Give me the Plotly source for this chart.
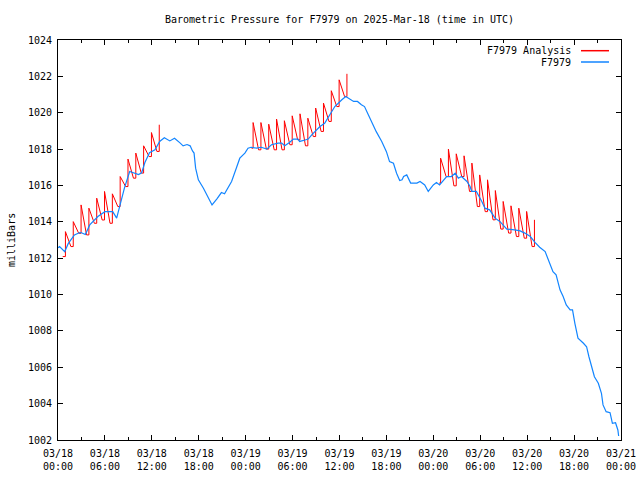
import pandas as pd
import plotly.graph_objects as go

# ---------------- data ----------------
BASE = "2025-03-18 00:00"

blue_hours = [0.0, 0.2, 0.86, 1.3, 2.1, 2.8, 3.0, 3.5, 4.06, 4.7, 5.1, 6.0, 7.0, 7.5, 7.9,
              8.5, 9.17, 9.8, 10.3, 10.7, 11.1, 11.7, 12.4, 13.0, 13.6, 14.3, 14.9, 15.6,
              16.0, 16.5, 16.9, 17.2, 17.4, 17.6, 17.95, 18.6, 19.2, 19.7, 20.3, 20.9, 21.3,
              22.2, 22.8, 23.25, 23.9, 24.3, 24.7, 25.4, 26.0, 26.7, 27.3, 28.15, 28.6, 29.0,
              29.6, 30.1, 30.7, 30.9, 31.6, 32.0, 32.45, 33.5, 34.1, 34.8, 35.4, 36.3, 36.8,
              37.8, 38.3, 38.8, 39.2, 39.7, 40.3, 40.7, 41.4, 42.0, 42.4, 42.9, 43.3, 43.7,
              44.0, 44.2, 44.6, 45.1, 45.9, 46.3, 46.9, 47.35, 48.0, 48.4, 48.8, 49.3, 49.7,
              50.3, 50.8, 51.2, 51.6, 52.3, 52.7, 52.9, 53.5, 54.2, 54.6, 55.2, 55.9, 56.5,
              57.4, 58.4, 59.1, 59.7, 60.4, 61.0, 61.6, 62.3, 62.9, 63.3, 63.7, 64.2, 64.6,
              65.0, 65.5, 65.8, 66.1, 66.5, 67.2, 67.6, 67.9, 68.2, 68.6, 69.1, 69.5, 69.7,
              70.1, 70.6, 70.9, 71.3, 71.6, 71.7]
blue_mb = [1012.57, 1012.64, 1012.36, 1012.8, 1013.28, 1013.41, 1013.4, 1013.3, 1013.83, 1014.1,
           1014.29, 1014.56, 1014.56, 1014.2, 1014.84, 1015.87, 1016.77, 1016.68, 1016.6, 1016.7,
           1017.25, 1017.8, 1017.96, 1018.42, 1018.62, 1018.45, 1018.6, 1018.34, 1018.18, 1018.25,
           1018.18, 1017.9, 1017.78, 1016.95, 1016.31, 1015.85, 1015.3, 1014.93, 1015.25, 1015.61,
           1015.54, 1016.22, 1016.95, 1017.5, 1017.78, 1018.05, 1018.1, 1018.05, 1018.1, 1018.0,
           1018.24, 1018.33, 1018.33, 1018.18, 1018.36, 1018.55, 1018.55, 1018.42, 1018.5, 1018.55,
           1018.78, 1019.24, 1019.42, 1019.88, 1020.34, 1020.71, 1020.89, 1020.62, 1020.62, 1020.44,
           1020.34, 1019.88, 1019.33, 1018.96, 1018.42, 1017.86, 1017.31, 1017.22, 1016.67, 1016.27,
           1016.31, 1016.49, 1016.58, 1016.13, 1016.13, 1016.22, 1016.03, 1015.67, 1016.03, 1016.16,
           1016.03, 1016.31, 1016.49, 1016.49, 1016.67, 1016.4, 1016.49, 1016.22, 1015.94, 1015.67,
           1015.67, 1015.12, 1014.75, 1014.66, 1014.2, 1014.02, 1013.6, 1013.56, 1013.5, 1013.38,
           1013.19, 1012.87, 1012.6, 1012.36, 1011.72, 1011.26, 1011.08, 1010.26, 1009.89, 1009.43,
           1009.16, 1009.16, 1008.42, 1007.6, 1007.32, 1007.13, 1006.58, 1006.13, 1005.48, 1005.12,
           1004.57, 1003.93, 1003.56, 1003.5, 1002.92, 1002.95, 1002.55, 1002.22]

# Analysis runs: hourly reset times, peak value at each reset, low value just before it
run1_start = 0.6
run1_hours = [0.95, 1.95, 2.95, 3.95, 4.95, 5.95, 6.95, 7.95, 8.95, 9.95, 10.95, 11.95, 12.95]
run1_high = [1013.46, 1014.01, 1014.93, 1014.75, 1015.30, 1015.67, 1015.54, 1016.49, 1017.45,
             1017.78, 1018.18, 1018.91, 1019.34]
run1_low = [1012.09, 1012.64, 1013.37, 1013.28, 1013.92, 1014.10, 1013.92, 1014.84, 1015.94,
            1016.40, 1016.68, 1017.59, 1017.87]

run2_start = 24.75
run2_hours = [24.95, 25.95, 26.95, 27.95, 28.95, 29.95, 30.95, 31.95, 32.95, 33.95, 34.95, 35.95, 36.95]
run2_high = [1019.46, 1019.46, 1019.37, 1019.65, 1019.56, 1019.83, 1019.94, 1019.70, 1020.26,
             1020.53, 1021.21, 1021.81, 1022.14]
run2_low = [1018.05, 1017.96, 1018.00, 1017.96, 1017.96, 1018.24, 1018.51, 1018.18, 1018.69,
            1018.97, 1019.52, 1020.34, 1020.89]

run3_start = 48.75
run3_hours = [48.93, 49.93, 50.93, 51.93, 52.93, 53.93, 54.93, 55.93, 56.93, 57.93, 58.93, 59.93, 60.93]
run3_high = [1017.50, 1018.00, 1017.74, 1017.63, 1017.23, 1016.58, 1016.31, 1015.72, 1015.12,
             1014.88, 1014.75, 1014.57, 1014.11]
run3_low = [1016.13, 1016.49, 1015.98, 1016.49, 1015.67, 1014.84, 1014.56, 1014.11, 1013.60,
            1013.38, 1013.19, 1013.10, 1012.64]

x_tick_step_h = 6
x_minor_step_h = 3
y_range = [1002, 1024]
y_tick_step = 2

title_text = "Barometric Pressure for F7979 on 2025-Mar-18 (time in UTC)"
y_label = "milliBars"
legend_names = ["F7979 Analysis", "F7979"]
RED = "#ff0000"
BLUE = "#1285ff"
FONT = "DejaVu Sans Mono"

# ---------------- build ----------------
base = pd.Timestamp(BASE)


def to_time(hours):
    return [base + pd.Timedelta(hours=h) for h in hours]


def build_run(start, hours, highs, lows, fall=0.7):
    xs = [start]
    ys = [lows[0]]
    for i, (h, hi, lo) in enumerate(zip(hours, highs, lows)):
        xs += [h, h]
        ys += [lo, hi]
        if i + 1 < len(hours):
            xs.append(h + fall)
            ys.append(lows[i + 1])
    return xs, ys


red_x, red_y = [], []
for run in [(run1_start, run1_hours, run1_high, run1_low),
            (run2_start, run2_hours, run2_high, run2_low),
            (run3_start, run3_hours, run3_high, run3_low)]:
    xs, ys = build_run(*run)
    if red_x:
        red_x.append(None)
        red_y.append(None)
    red_x += to_time(xs)
    red_y += ys

fig = go.Figure()
fig.add_trace(go.Scatter(x=red_x, y=red_y, mode="lines", name=legend_names[0],
                         line=dict(color=RED, width=1), connectgaps=False, showlegend=False))
fig.add_trace(go.Scatter(x=to_time(blue_hours), y=blue_mb, mode="lines", name=legend_names[1],
                         line=dict(color=BLUE, width=1.2), showlegend=False))

H_MS = 3600 * 1000
axis_common = dict(showline=True, linecolor="black", linewidth=1, mirror="allticks",
                   ticks="inside", tickcolor="black", tickwidth=1, showgrid=False,
                   zeroline=False, automargin=False,
                   tickfont=dict(family=FONT, size=10, color="black"))

fig.update_xaxes(type="date", range=[base, base + pd.Timedelta(hours=72)],
                 tick0=base, dtick=x_tick_step_h * H_MS, tickformat="%m/%d<br>%H:%M",
                 ticklen=5, ticklabelstandoff=4,
                 minor=dict(ticks="inside", ticklen=3, dtick=x_minor_step_h * H_MS,
                            tickcolor="black", showgrid=False),
                 **axis_common)
fig.update_yaxes(range=y_range, dtick=y_tick_step, tickformat="d", ticklen=5,
                 ticklabelstandoff=3, **axis_common)

# legend drawn gnuplot-style: text right, sample line after it
PW, PH = 563.0, 400.0
leg_text_right = (573 - 58) / PW
leg_line = [(581 - 58) / PW, (609 - 58) / PW]
leg_rows = [(440 - 50.7) / PH, (440 - 62) / PH]
for name, col, yy in zip(legend_names, [RED, BLUE], leg_rows):
    fig.add_annotation(x=leg_text_right, y=yy, xref="paper", yref="paper", text=name,
                       showarrow=False, xanchor="right", yanchor="middle",
                       font=dict(family=FONT, size=10, color="black"))
    fig.add_shape(type="line", xref="paper", yref="paper", x0=leg_line[0], x1=leg_line[1],
                  y0=yy, y1=yy, line=dict(color=col, width=1.5))

fig.add_annotation(x=0, y=0.5, xref="paper", yref="paper", xshift=-47, text=y_label,
                   textangle=-90, showarrow=False, xanchor="center", yanchor="middle",
                   font=dict(family=FONT, size=10, color="black"))

fig.update_layout(
    width=640, height=480,
    margin=dict(l=58, r=19, t=40, b=40, pad=0),
    plot_bgcolor="white", paper_bgcolor="white",
    title=dict(text=title_text, x=0.5, xref="paper", xanchor="center",
               y=1 - 19 / 480, yref="container", yanchor="middle",
               font=dict(family=FONT, size=10, color="black")),
    showlegend=False,
)

fig.write_html("out.html", config={"displayModeBar": False},
               post_script="document.body.style.margin='0';document.body.style.overflow='hidden';")
